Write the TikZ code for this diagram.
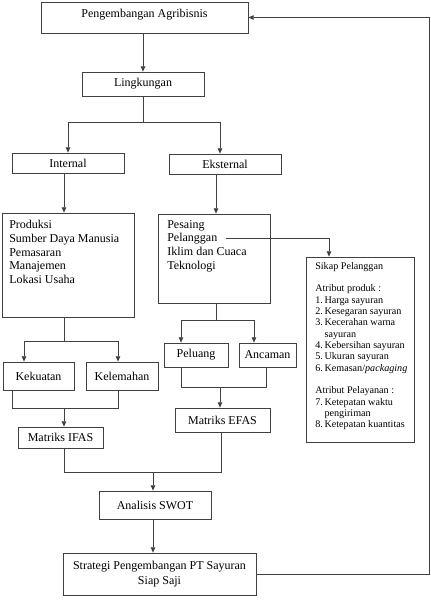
\documentclass[tikz,border=0pt]{standalone}
\usepackage{fontspec}
\setmainfont{Liberation Serif}
\usetikzlibrary{arrows.meta}
\begin{document}
\begin{tikzpicture}[x=0.75pt,y=-0.75pt,
  box/.style={draw=black!75, line width=0.6pt, inner sep=0pt, align=center, font=\fontsize{9}{11}\selectfont},
  rect/.style n args={4}{at={({(#1+#3)/2},{(#2+#4)/2})}, minimum width={(#3-#1)*0.75pt}, minimum height={(#4-#2)*0.75pt}},
  ln/.style={draw=black!75, line width=0.6pt},
  arr/.style={ln, -{Triangle[length=4pt,width=3.4pt]}},
  txt/.style={anchor=north west, inner sep=0pt, align=left}]
\useasboundingbox (0,0) rectangle (430,601);

% boxes
\node[box, rect={41}{2}{248}{33}, text depth=6pt] (peng) {Pengembangan Agribisnis};
\node[box, rect={82}{72}{204}{96}] (ling) {Lingkungan};
\node[box, rect={12}{153}{124}{173}] (internal) {Internal};
\node[box, rect={169}{154}{281}{174}] (ekst) {Eksternal};
\node[box, rect={2}{213}{134}{317}] (prod) {};
\node[box, rect={158}{214}{270}{303}] (pes) {};
\node[box, rect={306}{257}{414}{442}] (sikap) {};
\node[box, rect={3}{362}{74}{390}] (kek) {Kekuatan};
\node[box, rect={86}{362}{158}{390}] (kel) {Kelemahan};
\node[box, rect={164}{343}{228}{367}] (pel) {Peluang};
\node[box, rect={239}{343}{296}{367}] (anc) {Ancaman};
\node[box, rect={18}{427}{103}{448}] (ifas) {Matriks IFAS};
\node[box, rect={175}{408}{270}{432}] (efas) {Matriks EFAS};
\node[box, rect={99}{491}{211}{519}] (swot) {Analisis SWOT};
\node[box, rect={63}{553}{256}{595}] (strat) {Strategi Pengembangan PT Sayuran\\Siap Saji};

% texts inside boxes
\node[txt, font=\fontsize{9}{10.3}\selectfont] (prodtext) at (9,220)
  {Produksi\\Sumber Daya Manusia\\Pemasaran\\Manajemen\\Lokasi Usaha};
\node[txt, font=\fontsize{9}{10.3}\selectfont] (pestext) at (167,220)
  {Pesaing\\Pelanggan\\Iklim dan Cuaca\\Teknologi};
\node[txt, font=\fontsize{7.6}{8.5}\selectfont] (siktext) at (315,262)
  {Sikap Pelanggan\\[8.5pt]
   Atribut produk :\\
   \makebox[7pt][l]{1.}Harga sayuran\\
   \makebox[7pt][l]{2.}Kesegaran sayuran\\
   \makebox[7pt][l]{3.}Kecerahan warna\\
   \hspace*{7pt}sayuran\\
   \makebox[7pt][l]{4.}Kebersihan sayuran\\
   \makebox[7pt][l]{5.}Ukuran sayuran\\
   \makebox[7pt][l]{6.}Kemasan/\textit{packaging}\\[8.5pt]
   Atribut Pelayanan :\\
   \makebox[7pt][l]{7.}Ketepatan waktu\\
   \hspace*{7pt}pengiriman\\
   \makebox[7pt][l]{8.}Ketepatan kuantitas};

% junctions
\coordinate (lj) at (143,122);
\coordinate (pj) at (64,341);
\coordinate (kj) at (64,408);
\coordinate (ej) at (216,320);
\coordinate (aj) at (220,387);
\coordinate (sj) at (153,472);
\coordinate (pl) at (226,238);

% connectors
\draw[arr] (ling.north |- peng.south) -- (ling.north);
\draw[ln] (ling.south) -- (lj);
\draw[arr] (lj) -| (internal.north);
\draw[arr] (lj) -| ([xshift=-3.75pt]ekst.north);
\draw[arr] (internal.south -| pj) -- (prod.north -| pj);
\draw[arr] (ekst.south -| ej) -- (pes.north -| ej);
\draw[ln] (prod.south -| pj) -- (pj);
\draw[arr] (pj) -| (kek.north -| 24,0);
\draw[arr] (pj) -| (kel.north -| 118,0);
\draw[ln] (kek.south -| 12,0) |- (kj);
\draw[ln] (kel.south -| 118,0) |- (kj);
\draw[arr] (kj) -- (ifas.north -| kj);
\draw[ln] (pes.south -| ej) -- (ej);
\draw[arr] (ej) -| (pel.north -| 181,0);
\draw[arr] (ej) -| (anc.north -| 254,0);
\draw[ln] (pel.south -| 181,0) |- (aj);
\draw[ln] (anc.south -| 266,0) |- (aj);
\draw[arr] (aj) -- (efas.north -| aj);
\draw[ln] (ifas.south -| 64,0) |- (sj);
\draw[ln] (efas.south -| 221,0) |- (sj);
\draw[arr] (sj) -- (swot.north -| sj);
\draw[arr] (swot.south -| sj) -- (strat.north -| sj);
\draw[arr] (strat.east) -- (strat.east -| 429,0) |- (peng.east);
\draw[arr] (pl) -| (sikap.north -| 329,0);
\end{tikzpicture}
\end{document}
